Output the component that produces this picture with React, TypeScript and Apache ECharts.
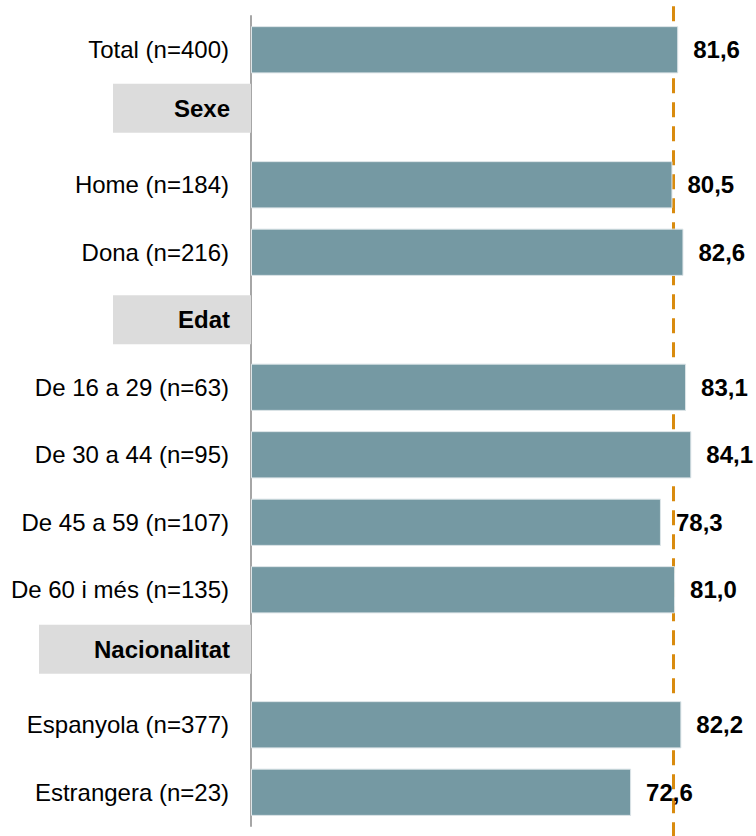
import React, { useEffect, useRef } from "react";
import * as echarts from "echarts";

const categories = [
  "Total (n=400)",
  "Sexe",
  "Home (n=184)",
  "Dona (n=216)",
  "Edat",
  "De 16 a 29 (n=63)",
  "De 30 a 44 (n=95)",
  "De 45 a 59 (n=107)",
  "De 60 i més (n=135)",
  "Nacionalitat",
  "Espanyola (n=377)",
  "Estrangera (n=23)",
];
const values: (number | null)[] = [81.6, null, 80.5, 82.6, null, 83.1, 84.1, 78.3, 81.0, null, 82.2, 72.6];
const headers = ["Sexe", "Edat", "Nacionalitat"];
const referenceValue = 80.7;

const FONT = "'Liberation Sans', Arial, sans-serif";
const FS = 24;

export default function App() {
  const ref = useRef<HTMLDivElement>(null);
  useEffect(() => {
    if (!ref.current) return;
    const chart = echarts.init(ref.current, null, { renderer: "svg" });
    const headerStyle: Record<string, { key: string; shift: number }> = {
      Sexe: { key: "h", shift: 18 },
      Edat: { key: "h", shift: 0 },
      Nacionalitat: { key: "hw", shift: 16 },
    };
    const hBase = {
      backgroundColor: "#dcdcdc",
      height: 49,
      lineHeight: 49,
      align: "right",
      padding: [0, 21, 0, 0],
      fontWeight: "bold",
      fontSize: FS,
      fontFamily: FONT,
      color: "#000",
    };
    chart.setOption({
      animation: false,
      grid: { left: 251, top: 16, bottom: 10, right: 33.8 },
      xAxis: {
        type: "value",
        min: 0,
        max: 90,
        show: false,
      },
      yAxis: [
        {
          type: "category",
          data: categories,
          inverse: true,
          axisTick: { show: false },
          axisLine: { show: true, lineStyle: { color: "#a6a6a6", width: 2 } },
          axisLabel: {
            margin: 0,
            interval: 0,
            fontFamily: FONT,
            fontSize: FS,
            color: "#000",
            formatter: (v: string) => {
              if (headers.includes(v)) {
                const s = headerStyle[v];
                return s.shift > 0 ? `{${s.key}|${v}}\n{sp${s.shift}| }` : `{${s.key}|${v}}`;
              }
              return `{n|${v}}`;
            },
            rich: {
              n: { padding: [0, 22, 0, 0], fontSize: FS, fontFamily: FONT, color: "#000" },
              h: { ...hBase, width: 117 },
              hw: { ...hBase, width: 191 },
              sp18: { height: 18, lineHeight: 18, fontSize: 1 },
              sp16: { height: 16, lineHeight: 16, fontSize: 1 },
            },
          },
        },
        { type: "value", min: 0, max: 1, show: false },
      ],
      series: [
        {
          type: "line",
          yAxisIndex: 1,
          z: 1,
          clip: false,
          silent: true,
          showSymbol: false,
          symbol: "none",
          data: [
            [referenceValue, 1.012],
            [referenceValue, -0.013],
          ],
          lineStyle: { color: "#D98B0E", width: 3, type: [15, 9] },
        },
        {
          type: "bar",
          yAxisIndex: 0,
          z: 2,
          data: values,
          barCategoryGap: "30%",
          itemStyle: { color: "#7599A3", borderColor: "#dde5e8", borderWidth: 1 },
          label: {
            show: true,
            position: "right",
            distance: 15,
            fontFamily: FONT,
            fontSize: FS,
            fontWeight: "bold",
            color: "#000",
            formatter: (p: any) => (p.value == null ? "" : Number(p.value).toFixed(1).replace(".", ",")),
          },
        },
      ],
    });
    return () => chart.dispose();
  }, []);
  return (
    <div
      ref={ref}
      style={{ position: "absolute", left: 0, top: 0, width: 756, height: 836, background: "#fff" }}
    />
  );
}
